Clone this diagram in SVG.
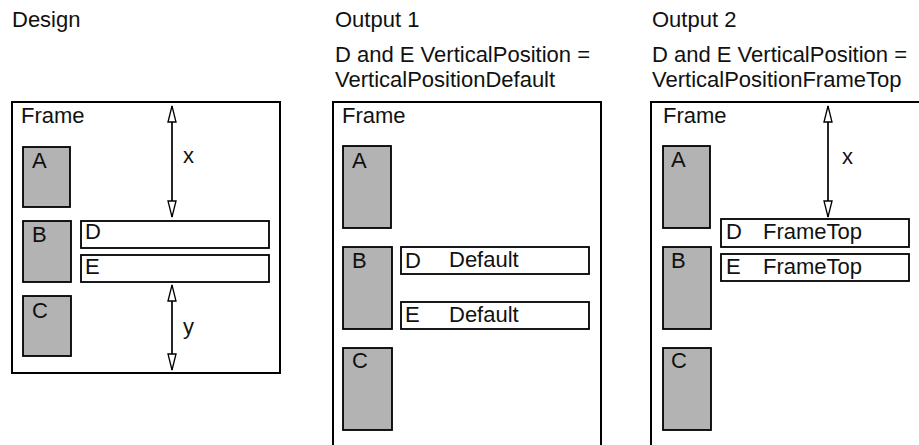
<svg xmlns="http://www.w3.org/2000/svg" width="919" height="445" viewBox="0 0 919 445">
<style>
text{font-family:"Liberation Sans",Arial,Helvetica,sans-serif;font-size:22px;fill:#111}
.frame{fill:#fff;stroke:#000;stroke-width:2}
.obj{fill:#b3b3b3;stroke:#000;stroke-width:1.8}
.box{fill:#fff;stroke:#000;stroke-width:1.8}
.dim{stroke:#000;stroke-width:1.7;fill:none;marker-start:url(#ah);marker-end:url(#ah)}
</style>
<defs>
<marker id="ah" markerUnits="userSpaceOnUse" markerWidth="20" markerHeight="12" refX="16" refY="4.5" orient="auto-start-reverse" overflow="visible">
<path d="M0,0.5 L16,4.5 L0,8.5 Z" fill="#fff" stroke="#000" stroke-width="1.3"/>
</marker>
</defs>
<rect width="919" height="445" fill="#fff"/>

<g id="titles">
<text x="12" y="27">Design</text>
<text x="335" y="27">Output 1</text>
<text x="335" y="62">D and E VerticalPosition =</text>
<text x="335" y="87">VerticalPositionDefault</text>
<text x="652" y="27">Output 2</text>
<text x="652" y="62">D and E VerticalPosition =</text>
<text x="652" y="87">VerticalPositionFrameTop</text>
</g>

<!-- Design -->
<g id="design-frame"><rect class="frame" x="12" y="102" width="268" height="271"/><text x="21" y="123">Frame</text></g>
<g id="design-A"><rect class="obj" x="23" y="147" width="47" height="60"/><text x="32" y="168">A</text></g>
<g id="design-B"><rect class="obj" x="23" y="221" width="48" height="61"/><text x="32" y="242">B</text></g>
<g id="design-C"><rect class="obj" x="23" y="296" width="48" height="60"/><text x="32" y="318">C</text></g>
<g id="design-D"><rect class="box" x="81" y="221" width="188" height="27"/><text x="85" y="239">D</text></g>
<g id="design-E"><rect class="box" x="81" y="255" width="188" height="27"/><text x="85" y="274">E</text></g>
<g id="design-x"><text x="183" y="163">x</text></g>
<g id="design-y"><text x="183" y="334">y</text></g>

<!-- Output 1 -->
<g id="out1-frame"><rect class="frame" x="333" y="102" width="268" height="400"/><text x="342" y="123">Frame</text></g>
<g id="out1-A"><rect class="obj" x="343" y="146" width="48" height="82"/><text x="352" y="168">A</text></g>
<g id="out1-B"><rect class="obj" x="343" y="247" width="49" height="82"/><text x="352" y="268">B</text></g>
<g id="out1-C"><rect class="obj" x="343" y="348" width="49" height="82"/><text x="352" y="368">C</text></g>
<g id="out1-D"><rect class="box" x="401" y="247" width="188" height="27"/><text x="405" y="268">D</text><text x="449" y="267">Default</text></g>
<g id="out1-E"><rect class="box" x="401" y="302" width="188" height="27"/><text x="405" y="322">E</text><text x="449" y="322">Default</text></g>

<!-- Output 2 -->
<g id="out2-frame"><rect class="frame" x="651" y="102" width="300" height="400"/><text x="663" y="123">Frame</text></g>
<g id="out2-A"><rect class="obj" x="663" y="146" width="47" height="82"/><text x="671" y="167">A</text></g>
<g id="out2-B"><rect class="obj" x="663" y="247" width="48" height="82"/><text x="671" y="268">B</text></g>
<g id="out2-C"><rect class="obj" x="663" y="348" width="48" height="82"/><text x="671" y="368">C</text></g>
<g id="out2-D"><rect class="box" x="721" y="219" width="188" height="28"/><text x="726" y="239">D</text><text x="763" y="239">FrameTop</text></g>
<g id="out2-E"><rect class="box" x="721" y="254" width="188" height="27"/><text x="726" y="274">E</text><text x="763" y="274">FrameTop</text></g>
<g id="out2-x"><text x="842" y="164">x</text></g>

<g id="connectors">
<line class="dim" x1="172" y1="106" x2="172" y2="217"/>
<line class="dim" x1="172" y1="285" x2="172" y2="370"/>
<line class="dim" x1="828" y1="106" x2="828" y2="217"/>
</g>
</svg>
